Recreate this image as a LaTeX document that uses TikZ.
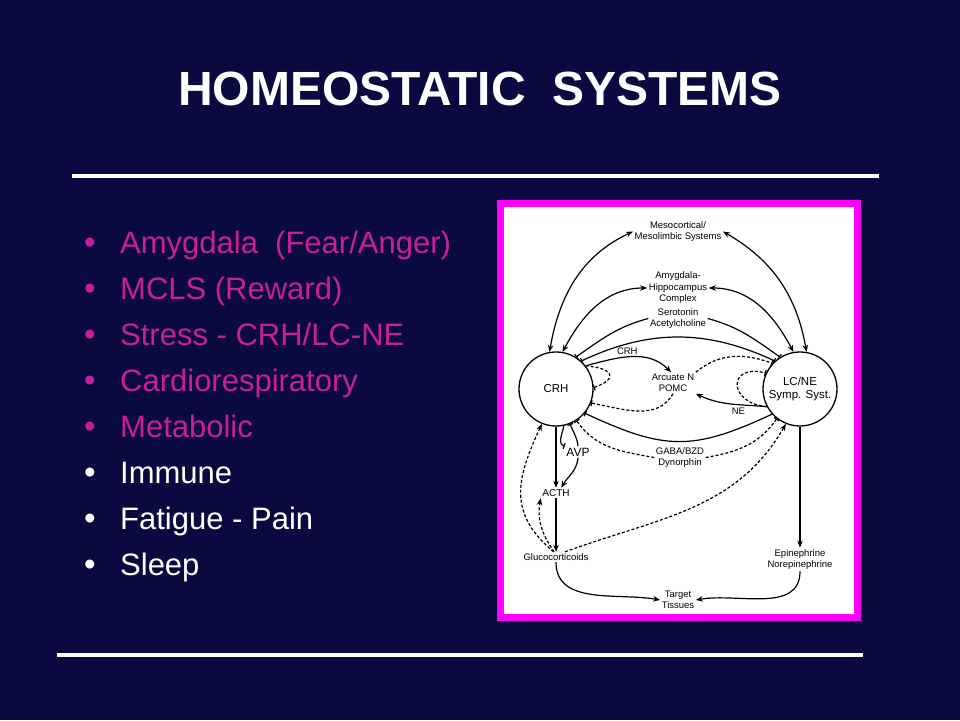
\documentclass[tikz,border=0pt]{standalone}
\usepackage{fontspec}
\setmainfont{Liberation Sans}
\usetikzlibrary{positioning,arrows.meta}
\definecolor{navy}{HTML}{0A0A40}
\definecolor{rose}{HTML}{C81E9B}
\definecolor{framepink}{HTML}{FF00FF}
\begin{document}
\begin{tikzpicture}[x=1pt, y=1pt,
  heading/.style={text=white, font=\fontsize{48}{50}\selectfont\bfseries, inner sep=0, anchor=base},
  item/.style={anchor=base west, font=\fontsize{31}{33}\selectfont, inner sep=0},
  hub/.style={circle, draw, line width=1.3pt, minimum size=74pt, inner sep=0, align=center, font=\fontsize{11.5}{13}\selectfont},
  lbl/.style={align=center, inner sep=1.5pt, font=\fontsize{9.5}{11.5}\selectfont},
  act/.style={-{Stealth[length=7pt,width=5.5pt]}, line width=1.2pt},
  both/.style={{Stealth[length=7pt,width=5.5pt]}-{Stealth[length=7pt,width=5.5pt]}, line width=1.2pt},
  inh/.style={-{Bar[width=6pt]}, line width=1.2pt},
  dashline/.style={dash pattern=on 3pt off 2pt}
]
\useasboundingbox (0,0) rectangle (960,720);
\fill[navy] (0,0) rectangle (960,720);

\node[heading] (title) at (480,614) {HOMEOSTATIC\ \ SYSTEMS};
\draw[white, line width=4pt] (72,544) -- (879,544);
\draw[white, line width=4pt] (57,65) -- (863,65);

\foreach \txt/\col [count=\i] in {{Amygdala\ \ (Fear/Anger)}/rose, {MCLS (Reward)}/rose,
    {Stress - CRH/LC-NE}/rose, {Cardiorespiratory}/rose, {Metabolic}/rose,
    {Immune}/white, {Fatigue - Pain}/white, {Sleep}/white}{
  \node[anchor=base, text=\col, font=\fontsize{33}{33}\selectfont, inner sep=0] (dot\i) at (90,{466-45.9*(\i-1)}) {•};
  \node[item, text=\col] (item\i) at (120,{466-45.9*(\i-1)}) {\txt};
}

\node[draw=framepink, line width=7pt, fill=white, minimum width=357pt, minimum height=414pt, inner sep=0] (panel) at (679,309.5) {};

\node[lbl] (meso) at (678,488.5) {Mesocortical/\\Mesolimbic Systems};
\node[lbl] (amyg) at (678,432) {Amygdala-\\Hippocampus\\Complex};
\node[lbl] (sero) at (678,401.5) {Serotonin\\Acetylcholine};
\node[hub] (crh) at (556,331) {CRH};
\node[hub] (lcne) at (800,331) {LC/NE\\Symp. Syst.};
\node[lbl] (arc) at (673,337) {Arcuate N\\POMC};
\node[lbl] (gaba) at (680,262.5) {GABA/BZD\\Dynorphin};
\node[lbl, font=\fontsize{12}{13}\selectfont] (avp) at (578,268) {AVP};
\node[lbl, font=\fontsize{10}{12}\selectfont] (acth) at (556,227) {ACTH};
\node[lbl] (gluco) at (556,163) {Glucocorticoids};
\node[lbl] (epi) at (800,160.5) {Epinephrine\\Norepinephrine};
\node[lbl] (target) at (678,120) {Target\\Tissues};

\draw[both] (crh.100) to[out=80, in=205] (meso.west);
\draw[both] (crh.80) to[out=62, in=180] (amyg.west);
\draw[both] (lcne.80) to[out=100, in=-30] (meso.east);
\draw[both] (lcne.100) to[out=118, in=0] (amyg.east);
\draw[inh] (sero.west) to[out=195, in=35] (crh.58);
\draw[inh] (sero.east) to[out=-15, in=145] (lcne.122);
\draw[{Bar[width=6pt]}-{Bar[width=6pt]}, line width=1.2pt] (crh.48) to[out=25, in=155] (lcne.132);

\draw[act] (crh.38) to[out=15, in=135] node[lbl, pos=.45, above] {CRH} (arc.100);
\draw[inh, dashline] (crh.38) to[out=-5, in=20, looseness=3] (crh.2);
\draw[inh, dashline] (arc.south) to[out=-120, in=-10] (crh.-22);
\draw[inh] (lcne.-138) to[out=205, in=-25, looseness=1.2] (crh.-40);
\draw[act] (lcne.-152) to[out=175, in=-25] node[lbl, pos=.38, below=1pt] {NE} (arc.south east);
\draw[inh, dashline] (arc.north east) to[out=40, in=160] (lcne.137);
\draw[inh, dashline] (lcne.-152) to[out=175, in=165, looseness=3] (lcne.155);
\draw[inh, dashline] (gaba.west) to[out=170, in=-55] (crh.-57);
\draw[inh, dashline] (gaba.east) to[out=10, in=-125] (lcne.-128);

\draw[inh] (crh.-78) to[out=-100, in=160] (avp.north west);
\draw[inh] (avp.north) to[out=95, in=-70] (crh.-68);
\draw[act] (avp.south) to[out=-95, in=60] (acth.45);
\draw[act] (crh.south) -- (acth.north);
\draw[act] (acth.south) -- (gluco.north);
\draw[act, dashline] (gluco.110) to[out=125, in=-100] (acth.south west);
\draw[act, dashline] (gluco.115) to[out=140, in=-115, looseness=1.2] (crh.-112);
\draw[act, dashline] (gluco.30) to[out=20, in=-120] (lcne.-112);

\draw[act] (lcne.south) -- (epi.north);
\draw[act] (gluco.south) to[out=-90, in=170] (target.west);
\draw[act] (epi.south) to[out=-90, in=10] (target.east);
\end{tikzpicture}
\end{document}
